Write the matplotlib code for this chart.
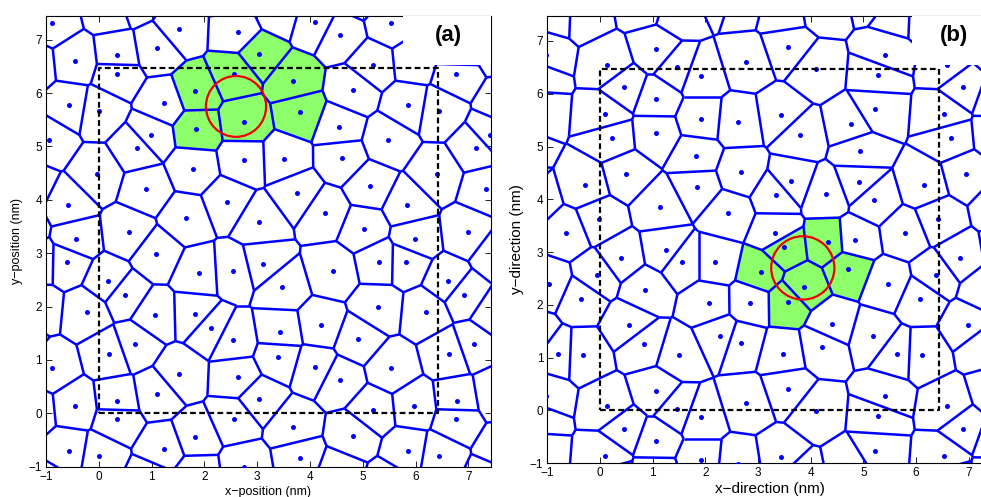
import numpy as np
import matplotlib
matplotlib.use('Agg')
import matplotlib.pyplot as plt
import matplotlib.tri as mtri
from matplotlib.collections import LineCollection
from matplotlib.patches import Polygon, Rectangle, Circle

plt.rcParams['font.family'] = ['Liberation Sans', 'DejaVu Sans']

# particle positions inside the periodic box (nm)
xa = [0.34, 2.57, 1.83, 0.01, 1.23, 1.85, 2.76, 0.98, 0.72, 2.75, 1.79, 6.40, 0.90,
      2.43, 1.65, 3.04, 0.57, 3.68, 4.82, 3.82, 5.86, 4.55, 5.48, 3.51, 4.61, 5.14,
      3.76, 4.29, 5.84, 5.99, 5.02, 1.09, 1.89, 2.55, 3.12, 0.18, 0.49, 1.06, 1.82,
      2.12, 2.55, 0.20, 0.68, 1.52, 2.63, 1.10, 0.35, 3.04, 4.44, 5.31, 5.82, 3.47,
      5.28, 6.20, 4.21, 3.43, 4.91, 3.40, 4.10, 5.54, 4.57, 5.98, 5.19]
ya = [6.36, 6.36, 6.03, 5.67, 5.81, 5.33, 5.46, 5.21, 4.97, 4.74, 4.58, 4.48, 4.20,
      3.96, 3.66, 3.59, 3.39, 6.22, 6.05, 5.64, 5.77, 5.37, 5.12, 4.77, 4.78, 4.26,
      4.12, 3.76, 3.91, 3.27, 3.46, 2.99, 2.62, 2.66, 2.80, 2.47, 2.22, 1.84, 1.86,
      1.59, 1.37, 1.12, 1.29, 0.73, 0.68, 0.37, 0.24, 0.27, 2.66, 2.84, 2.83, 2.37,
      1.99, 1.90, 1.65, 1.52, 1.39, 1.06, 0.86, 0.84, 0.62, 0.14, 0.06]

xb = [1.91, 0.46, 1.07, 0.10, 1.91, 2.62, 1.06, 0.22, 1.82, 2.67, 0.50, 6.16, 1.85,
      1.14, 2.43, 6.42, 5.80, 1.25, 4.10, 5.27, 3.44, 5.23, 4.76, 3.79, 4.93, 3.63,
      4.91, 3.34, 4.29, 5.21, 3.33, 4.85, 4.32, 3.49, 0.39, 1.55, 2.19, 3.05, 6.38,
      0.86, 6.08, 2.06, 2.85, 0.55, 2.28, 2.67, 0.83, 1.49, 1.07, 2.78, 0.14, 1.47,
      5.64, 6.11, 5.47, 4.71, 3.87, 3.56, 4.41, 5.19, 3.47, 4.22, 3.57, 5.41]
yb = [6.34, 6.12, 5.90, 5.61, 5.53, 5.46, 5.25, 5.17, 4.82, 4.51, 4.48, 4.27, 4.23,
      3.86, 3.74, 3.62, 3.37, 3.04, 6.46, 6.36, 5.59, 5.71, 5.42, 5.22, 4.91, 4.34,
      4.33, 4.09, 4.10, 3.99, 3.37, 3.23, 3.19, 3.09, 2.89, 2.81, 2.81, 2.62, 2.56,
      2.29, 2.12, 2.03, 2.04, 1.62, 1.41, 1.28, 1.25, 1.05, 0.37, 0.14, 0.08, 0.03,
      1.07, 1.05, 2.39, 2.68, 2.34, 2.05, 1.63, 1.41, 1.07, 1.20, 0.41, 0.27]

# box sizes (nm)
box_a = (6.43, 6.47)
box_b = (6.44, 6.47)

# highlighted cells (generator positions) and circle (x, y, r)
green_a = [(1.83, 6.03), (1.85, 5.33), (2.76, 5.46), (2.57, 6.36), (3.04, 6.75),
           (3.68, 6.22), (3.82, 5.64)]
green_b = [(3.49, 3.09), (4.32, 3.19), (3.05, 2.62), (3.87, 2.34), (4.71, 2.68),
           (3.56, 2.05)]
circle_a = (2.60, 5.75, 0.57)
circle_b = (3.85, 2.70, 0.60)

BLUE = '#0000ff'
GREEN = '#8cff6a'


def tile(x, y, lx, ly):
    xs, ys = [], []
    for i in (-1, 0, 1):
        for j in (-1, 0, 1):
            xs.append(np.asarray(x) + i * lx)
            ys.append(np.asarray(y) + j * ly)
    return np.concatenate(xs), np.concatenate(ys)


def voronoi(px, py):
    tri = mtri.Triangulation(px, py)
    t = tri.triangles
    ax_, ay_ = px[t[:, 0]], py[t[:, 0]]
    bx, by = px[t[:, 1]], py[t[:, 1]]
    cx, cy = px[t[:, 2]], py[t[:, 2]]
    d = 2 * (ax_ * (by - cy) + bx * (cy - ay_) + cx * (ay_ - by))
    a2, b2, c2 = ax_**2 + ay_**2, bx**2 + by**2, cx**2 + cy**2
    ux = (a2 * (by - cy) + b2 * (cy - ay_) + c2 * (ay_ - by)) / d
    uy = (a2 * (cx - bx) + b2 * (ax_ - cx) + c2 * (bx - ax_)) / d
    segs = []
    for i, nbs in enumerate(tri.neighbors):
        for j in nbs:
            if j > i:
                segs.append([(ux[i], uy[i]), (ux[j], uy[j])])
    return t, ux, uy, segs


def cell(k, px, py, t, ux, uy):
    idx = np.where((t == k).any(axis=1))[0]
    ang = np.arctan2(uy[idx] - py[k], ux[idx] - px[k])
    order = idx[np.argsort(ang)]
    return np.column_stack([ux[order], uy[order]])


def draw_panel(ax, x, y, box, green, circ, xlim, ylim, xlabel, ylabel, tag,
               tagbox, labelsize):
    lx, ly = box
    px, py = tile(x, y, lx, ly)
    t, ux, uy, segs = voronoi(px, py)

    for gx, gy in green:
        k = np.argmin((px - gx)**2 + (py - gy)**2)
        ax.add_patch(Polygon(cell(k, px, py, t, ux, uy), closed=True,
                             facecolor=GREEN, edgecolor='none', zorder=1))

    ax.add_collection(LineCollection(segs, colors=BLUE, linewidths=1.8, zorder=2))
    ax.plot(px, py, 'o', color=BLUE, ms=3.6, mec='none', zorder=3)

    ax.plot([0, lx, lx, 0, 0], [0, 0, ly, ly, 0], color='black', lw=1.6,
            ls=(0, (2.6, 1.5)), zorder=4)
    ax.add_patch(Circle(circ[:2], circ[2], fill=False, edgecolor='#ee0000',
                        lw=1.6, zorder=5))

    ax.add_patch(Rectangle(tagbox[:2], tagbox[2], tagbox[3], facecolor='white',
                           edgecolor='none', zorder=6))
    ax.text(tagbox[0] + tagbox[2] * 0.5, tagbox[1] + tagbox[3] * 0.55, tag,
            fontsize=16, fontweight='bold', ha='center', va='center', zorder=7)

    ax.set_xlim(*xlim)
    ax.set_ylim(*ylim)
    ax.set_xticks(range(-1, 8))
    ax.set_yticks(range(-1, 8))
    ax.tick_params(direction='in', top=True, right=True, length=4, width=0.6,
                   labelsize=8.5, pad=3)
    for s in ax.spines.values():
        s.set_linewidth(0.8)
    ax.set_xlabel(xlabel, fontsize=labelsize, labelpad=2)
    ax.set_ylabel(ylabel, fontsize=labelsize, labelpad=4)


fig = plt.figure(figsize=(9.81, 4.97), dpi=100)
ax1 = fig.add_axes([0.0469, 0.061, 0.4536, 0.9074])
ax2 = fig.add_axes([0.558, 0.068, 0.4536, 0.9006])

draw_panel(ax1, xa, ya, box_a, green_a, circle_a, (-1, 7.43), (-1, 7.45),
           'x\u2212position (nm)', 'y\u2212position (nm)', '(a)',
           (5.77, 6.53, 1.7, 1.0), 9)
draw_panel(ax2, xb, yb, box_b, green_b, circle_b, (-1, 7.45), (-1, 7.48),
           'x\u2212direction (nm)', 'y\u2212direction (nm)', '(b)',
           (5.92, 6.55, 1.6, 1.0), 11)

fig.savefig('out.png', dpi=100)
